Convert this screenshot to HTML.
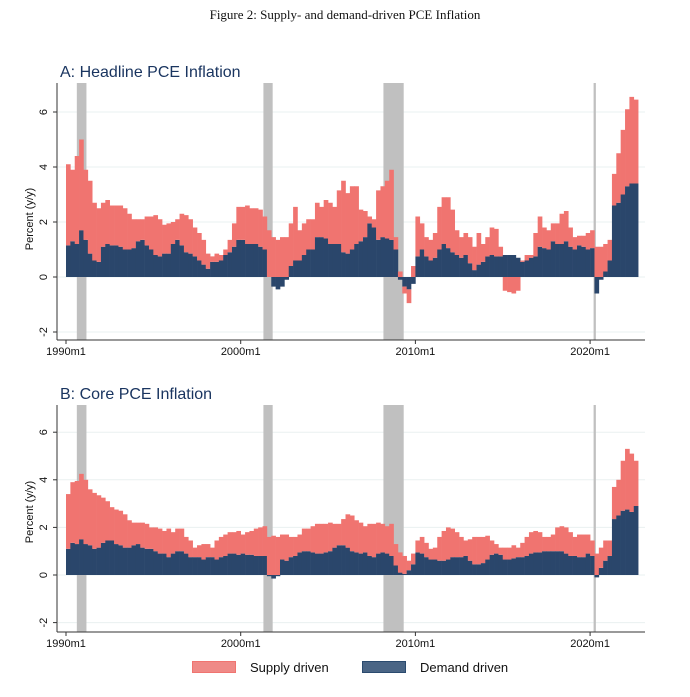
<!DOCTYPE html>
<html><head><meta charset="utf-8"><style>
html,body{margin:0;padding:0;background:#fff;}
svg{display:block;}
</style></head><body>
<svg id="fig" width="690" height="697" viewBox="0 0 690 697" xmlns="http://www.w3.org/2000/svg">
<text x="345" y="19" text-anchor="middle" font-family="Liberation Serif, serif" font-size="13" fill="#111">Figure 2: Supply- and demand-driven PCE Inflation</text>
<g id="legend">
<g>
<rect x="192.5" y="661.5" width="43" height="11" fill="#ef8a87" stroke="#f07470"/>
<text x="250" y="672" font-family="Liberation Sans, sans-serif" font-size="13" fill="#111">Supply driven</text>
</g>
<g>
<rect x="362.5" y="661.5" width="43" height="11" fill="#4a6585" stroke="#2a4a6e"/>
<text x="420" y="672" font-family="Liberation Sans, sans-serif" font-size="13" fill="#111">Demand driven</text>
</g>
</g>
</svg>
<script>
// Quarterly values starting 1990Q1 (percentage points)
const demandA = [1.15,1.3,1.2,1.7, 1.35,0.85,0.6,0.55, 1.1,1.2,1.15,1.15, 1.1,1.0,1.0,1.05, 1.3,1.35,1.15,1.0, 0.8,0.75,0.85,0.85, 1.2,1.35,1.15,0.9, 0.85,0.75,0.6,0.45, 0.3,0.55,0.55,0.6, 0.8,0.9,1.1,1.35, 1.35,1.2,1.2,1.2, 1.1,1.0,0,-0.35, -0.45,-0.35,-0.1,0.4, 0.6,0.6,0.8,1.0, 1.0,1.45,1.45,1.4, 1.2,1.2,1.2,0.9, 0.85,1.0,1.2,1.3, 1.45,1.95,1.8,1.35, 1.45,1.4,1.35,1.0, -0.1,-0.35,-0.45,-0.25, 0.75,1.0,0.75,0.6, 0.7,1.0,1.2,1.05, 0.9,0.8,0.7,0.8, 0.5,0.25,0.45,0.55, 0.75,0.8,0.75,0.75, 0.8,0.8,0.8,0.7, 0.55,0.6,0.7,0.75, 1.1,1.05,1.0,1.3, 1.2,1.2,1.3,1.1, 1.0,1.15,1.1,1.0, 1.05,-0.6,-0.1,0.2, 0.6,2.6,2.7,3.0, 3.3,3.4,3.4];
const supplyA = [2.95,2.6,3.2,3.3, 2.55,2.65,2.1,1.95, 1.6,1.6,1.45,1.45, 1.5,1.5,1.3,1.05, 0.8,0.75,1.05,1.2, 1.45,1.35,1.05,1.1, 0.8,0.75,1.15,1.35, 1.25,1.05,1.0,0.9, 0.55,0.2,0.3,0.2, 0.2,0.45,0.85,1.2, 1.2,1.4,1.3,1.3, 1.35,1.2,1.7,1.45, 1.35,1.45,1.45,1.55, 1.95,1.1,1.15,1.1, 1.1,1.25,1.1,1.4, 1.5,1.35,1.95,2.6, 2.2,2.3,2.1,1.15, 0.95,0.25,0.3,1.8, 1.85,2.1,2.55,0.45, 0.2,-0.25,-0.5,0.4, 1.45,0.95,0.7,0.75, 0.9,1.55,1.7,1.85, 1.55,0.9,0.75,0.8, 0.95,0.85,1.15,0.65, 0.7,1.0,1.0,0.35, -0.5,-0.55,-0.6,-0.5, 0.05,0.2,0.1,0.85, 1.1,0.75,0.7,0.65, 0.75,1.1,1.1,0.7, 0.45,0.35,0.4,0.6, 0.65,1.1,1.1,1.0, 0.75,1.15,1.8,2.35, 2.8,3.15,3.05];
const demandB = [1.1,1.35,1.3,1.5, 1.3,1.25,1.1,1.15, 1.35,1.45,1.45,1.3, 1.25,1.15,1.15,1.25, 1.3,1.15,1.1,1.1, 1.0,0.9,0.9,0.75, 0.9,1.0,1.0,0.9, 0.75,0.75,0.75,0.65, 0.75,0.75,0.65,0.75, 0.8,0.9,0.9,0.85, 0.9,0.85,0.85,0.8, 0.8,0.8,-0.05,-0.15, -0.05,0.65,0.6,0.75, 0.8,0.95,1.0,1.0, 0.95,0.9,0.9,0.95, 1.0,1.15,1.25,1.25, 1.15,1.0,0.95,0.9, 0.95,0.8,0.75,0.9, 0.95,0.9,0.8,0.4, 0.1,0.05,0.2,0.45, 0.95,0.9,0.75,0.65, 0.65,0.6,0.6,0.65, 0.75,0.75,0.75,0.8, 0.6,0.45,0.45,0.5, 0.65,0.85,0.9,0.85, 0.65,0.65,0.7,0.75, 0.75,0.8,0.9,0.95, 0.95,1.0,1.0,1.0, 1.0,1.0,0.9,0.8, 0.8,0.75,0.75,0.9, 0.8,-0.1,0.3,0.6, 0.8,2.35,2.5,2.7, 2.75,2.65,2.9];
const supplyB = [2.3,2.55,2.65,2.75, 2.7,2.35,2.35,2.2, 1.9,1.65,1.4,1.45, 1.45,1.4,1.15,0.95, 0.9,1.05,1.05,0.9, 1.0,1.05,0.95,1.2, 0.9,0.95,0.95,0.7, 0.7,0.4,0.5,0.65, 0.55,0.4,0.8,0.85, 0.9,0.9,0.9,1.0, 0.8,0.95,1.0,1.15, 1.2,1.25,1.6,1.65, 1.6,1.05,1.1,0.85, 0.8,0.75,0.95,0.95, 1.1,1.25,1.25,1.2, 1.2,1.0,0.9,1.1, 1.4,1.5,1.35,1.3, 1.1,1.35,1.4,1.3, 1.2,1.15,1.35,0.9, 0.85,0.75,0.4,0.45, 0.5,0.7,0.6,0.45, 0.5,1.0,1.25,1.35, 1.2,1.05,0.85,0.65, 0.9,1.15,1.15,1.1, 1.0,0.6,0.4,0.3, 0.5,0.5,0.55,0.4, 0.6,0.8,0.9,0.9, 0.85,0.6,0.6,0.7, 1.0,1.05,1.1,1.0, 0.8,0.95,0.95,0.8, 0.65,0.9,0.85,0.85, 0.65,1.35,1.5,2.1, 2.55,2.45,1.9];
const recessions = [[1990.62,1991.17],[2001.3,2001.83],[2008.17,2009.33],[2020.2,2020.33]];
const xTickYears = [1990,2000,2010,2020];
const xTickLabels = ["1990m1","2000m1","2010m1","2020m1"];
const yTicks = [-2,0,2,4,6];

const NS = "http://www.w3.org/2000/svg";
const svg = document.getElementById('fig');
function mk(tag, attrs, parent){const e=document.createElementNS(NS,tag);for(const k in attrs)e.setAttribute(k,attrs[k]);(parent||svg).appendChild(e);return e;}
const xOf = yr => 66 + (yr-1990)*17.47;
const RED="#f07470", NAVY="#2a466b";

function panel(cfg){
  const g = mk('g',{});
  
  
  const yOf = v => cfg.y0 - v*cfg.ppu;
  yTicks.forEach(t=>{
    const l = mk('line',{x1:58,x2:645,y1:yOf(t),y2:yOf(t),stroke:'#eaf0f0','stroke-width':1},g);
    
    
  });
  recessions.forEach(r=>{
    const w = Math.max(2,xOf(r[1])-xOf(r[0]));
    const rc = mk('rect',{x:xOf(r[0]),y:cfg.top,width:w,height:cfg.bottom-cfg.top,fill:'#c0c0c0'},g);
    
    
  });
  const bw = 0.25*17.47;
  cfg.demand.forEach((d,i)=>{
    const s = cfg.supply[i];
    const x = xOf(1990+i*0.25);
    const db = mk('rect',{x:x,y:Math.min(yOf(0),yOf(d)),width:bw+0.3,height:Math.abs(yOf(d)-yOf(0)),fill:NAVY},g);
    
    
    const base = (s>=0)===(d>=0) ? d : 0;
    const ya = yOf(base), yb = yOf(base+s);
    const sb = mk('rect',{x:x,y:Math.min(ya,yb),width:bw+0.3,height:Math.abs(yb-ya),fill:RED},g);
    
    
  });
  const ya = mk('line',{x1:57,x2:57,y1:cfg.top,y2:cfg.bottom,stroke:'#333','stroke-width':1},g);
  
  
  const xa = mk('line',{x1:57,x2:645,y1:cfg.bottom,y2:cfg.bottom,stroke:'#333','stroke-width':1},g);
  
  
  yTicks.forEach(t=>{
    const tk = mk('line',{x1:53,x2:57,y1:yOf(t),y2:yOf(t),stroke:'#333'},g);
    
    
    const tx = mk('text',{x:47,y:yOf(t),'text-anchor':'middle','font-family':'Liberation Sans, sans-serif','font-size':11,fill:'#111',transform:`rotate(-90 47 ${yOf(t)})`},g);
    tx.textContent = String(t);
    
    
  });
  xTickYears.forEach((yr,i)=>{
    const tk = mk('line',{x1:xOf(yr),x2:xOf(yr),y1:cfg.bottom,y2:cfg.bottom+4,stroke:'#333'},g);
    
    
    const tx = mk('text',{x:xOf(yr),y:cfg.bottom+15,'text-anchor':'middle','font-family':'Liberation Sans, sans-serif','font-size':11,fill:'#111'},g);
    tx.textContent = xTickLabels[i];
    
    
  });
  const yt = mk('text',{x:33,y:cfg.ytc,'text-anchor':'middle','font-family':'Liberation Sans, sans-serif','font-size':11,fill:'#111',transform:`rotate(-90 33 ${cfg.ytc})`},g);
  yt.textContent = 'Percent (y/y)';
  
  
  const pt = mk('text',{x:60,y:cfg.top-6,'font-family':'Liberation Sans, sans-serif','font-size':16,fill:'#1a3560'},g);
  pt.textContent = cfg.title;
  
  
}
panel({name:'panel-headline',title:'A: Headline PCE Inflation',top:83,bottom:340,y0:277,ppu:27.5,ytc:219,demand:demandA,supply:supplyA});
panel({name:'panel-core',title:'B: Core PCE Inflation',top:405,bottom:632,y0:575,ppu:23.8,ytc:512,demand:demandB,supply:supplyB});
</script>
</body></html>
